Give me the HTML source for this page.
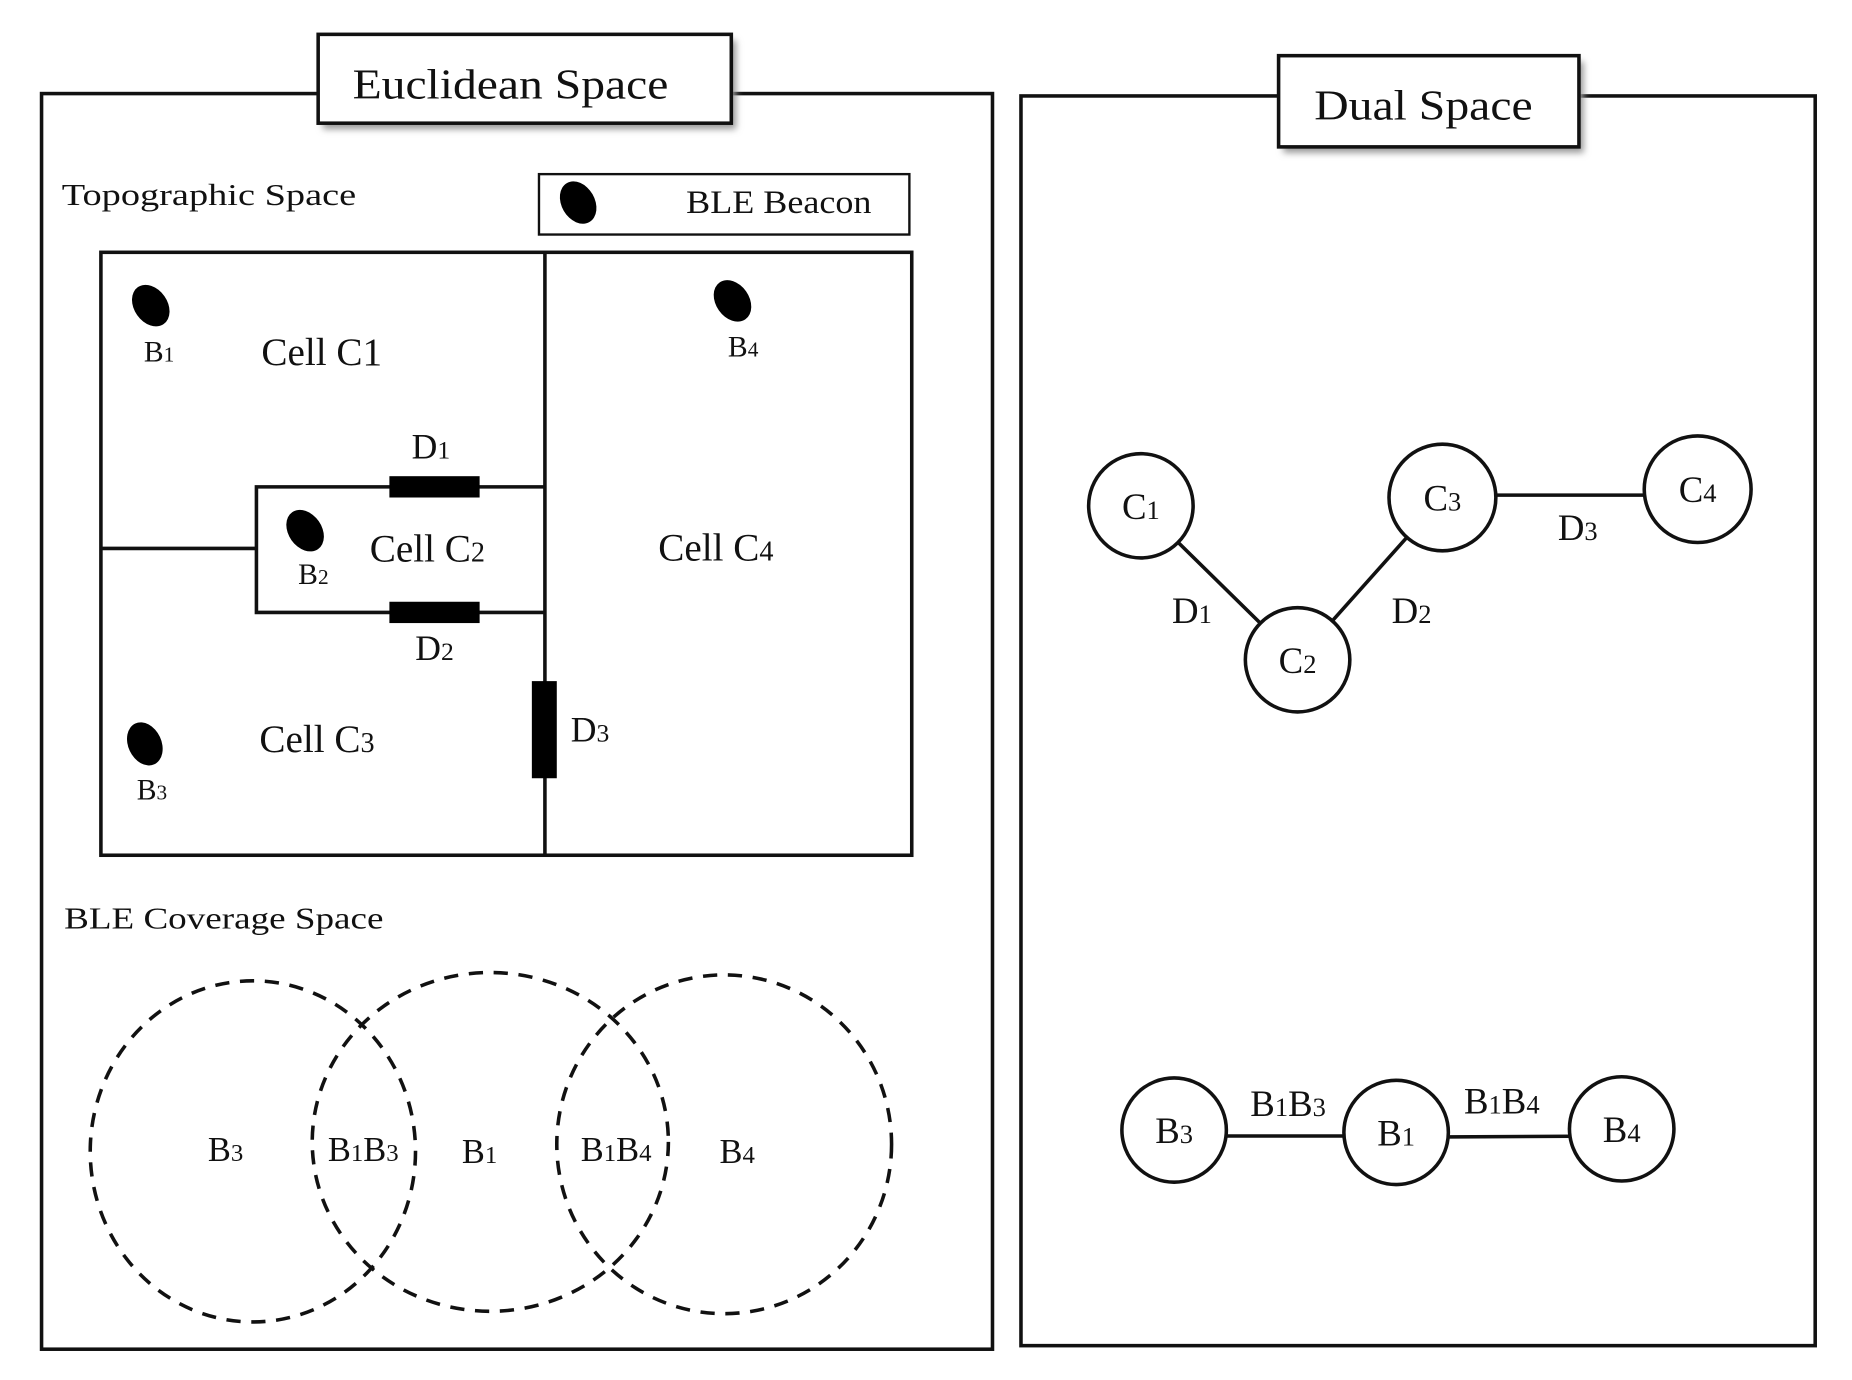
<!DOCTYPE html>
<html><head><meta charset="utf-8"><style>
html,body{margin:0;padding:0;background:#fff;}
svg{display:block;}
text{font-family:"Liberation Serif",serif;fill:#111;}
.s{font-size:0.72em;}
</style></head><body>
<svg width="1852" height="1380" viewBox="0 0 1560 1165" preserveAspectRatio="none" xmlns="http://www.w3.org/2000/svg">
<defs><filter id="sh" x="-10%" y="-10%" width="130%" height="140%"><feGaussianBlur stdDeviation="3"/></filter></defs>
<rect x="35" y="79" width="801" height="1060" fill="none" stroke="#111" stroke-width="3"/>
<rect x="860" y="81" width="669" height="1055" fill="none" stroke="#111" stroke-width="3"/>
<rect x="272" y="34" width="348" height="75" fill="#999" filter="url(#sh)"/>
<rect x="268" y="29" width="348" height="75" fill="#fff" stroke="#111" stroke-width="3"/>
<text x="297" y="83" font-size="36" textLength="266" lengthAdjust="spacingAndGlyphs">Euclidean Space</text>
<rect x="1081" y="52" width="253" height="77" fill="#999" filter="url(#sh)"/>
<rect x="1077" y="47" width="253" height="77" fill="#fff" stroke="#111" stroke-width="3"/>
<text x="1107" y="101" font-size="36" textLength="184" lengthAdjust="spacingAndGlyphs">Dual Space</text>
<text x="52" y="173" font-size="26" textLength="248" lengthAdjust="spacingAndGlyphs">Topographic Space</text>
<rect x="454" y="147" width="312" height="51" fill="none" stroke="#111" stroke-width="2"/>
<g fill="#000">
<ellipse cx="487" cy="171" rx="14" ry="19" transform="rotate(-30 487 171)"/>
<ellipse cx="127" cy="258" rx="14" ry="19" transform="rotate(-35 127 258)"/>
<ellipse cx="617" cy="254" rx="14" ry="19" transform="rotate(-35 617 254)"/>
<ellipse cx="257" cy="448" rx="14" ry="19" transform="rotate(-35 257 448)"/>
<ellipse cx="122" cy="628" rx="14" ry="19" transform="rotate(-25 122 628)"/>
</g>
<text x="578" y="180" font-size="28" textLength="156" lengthAdjust="spacingAndGlyphs">BLE Beacon</text>
<g fill="none" stroke="#111" stroke-width="3">
<rect x="85" y="213" width="683" height="509"/>
<line x1="459" y1="213" x2="459" y2="722"/>
<polyline points="459,411 216,411 216,517 459,517"/>
<line x1="85" y1="463" x2="216" y2="463"/>
</g>
<rect x="328" y="402" width="76" height="18" fill="#000"/>
<rect x="328" y="508" width="76" height="18" fill="#000"/>
<rect x="448" y="575" width="21" height="82" fill="#000"/>
<g font-size="25" text-anchor="middle">
<text x="134" y="305">B<tspan class="s">1</tspan></text>
<text x="626" y="301">B<tspan class="s">4</tspan></text>
<text x="264" y="493">B<tspan class="s">2</tspan></text>
<text x="128" y="675">B<tspan class="s">3</tspan></text>
</g>
<g font-size="33" text-anchor="middle">
<text x="271" y="308">Cell C1</text>
<text x="360" y="474">Cell C<tspan class="s">2</tspan></text>
<text x="603" y="473">Cell C<tspan class="s">4</tspan></text>
<text x="267" y="635">Cell C<tspan class="s">3</tspan></text>
<text x="363" y="387" font-size="30">D<tspan class="s">1</tspan></text>
<text x="366" y="557" font-size="30">D<tspan class="s">2</tspan></text>
<text x="497" y="626" font-size="30">D<tspan class="s">3</tspan></text>
</g>
<text x="54" y="784" font-size="26" textLength="269" lengthAdjust="spacingAndGlyphs">BLE Coverage Space</text>
<g fill="none" stroke="#111" stroke-width="3" stroke-dasharray="12,9">
<ellipse cx="213" cy="972" rx="137" ry="144"/>
<ellipse cx="413" cy="964" rx="150" ry="143"/>
<ellipse cx="610" cy="966" rx="141" ry="143"/>
</g>
<g font-size="29" text-anchor="middle">
<text x="190" y="980">B<tspan class="s">3</tspan></text>
<text x="306" y="980">B<tspan class="s">1</tspan>B<tspan class="s">3</tspan></text>
<text x="404" y="982">B<tspan class="s">1</tspan></text>
<text x="519" y="980">B<tspan class="s">1</tspan>B<tspan class="s">4</tspan></text>
<text x="621" y="982">B<tspan class="s">4</tspan></text>
</g>
<g stroke="#111" stroke-width="3" fill="none">
<line x1="961" y1="427" x2="1093" y2="557"/>
<line x1="1093" y1="557" x2="1215" y2="420"/>
<line x1="1215" y1="418" x2="1430" y2="418"/>
<line x1="989" y1="959" x2="1176" y2="959"/>
<line x1="1176" y1="960" x2="1366" y2="959"/>
</g>
<g stroke="#111" stroke-width="3" fill="#fff">
<circle cx="961" cy="427" r="44"/>
<circle cx="1215" cy="420" r="45"/>
<circle cx="1430" cy="413" r="45"/>
<circle cx="1093" cy="557" r="44"/>
<circle cx="989" cy="954" r="44"/>
<circle cx="1176" cy="956" r="44"/>
<circle cx="1366" cy="953" r="44"/>
</g>
<g font-size="31" text-anchor="middle">
<text x="961" y="438">C<tspan class="s">1</tspan></text>
<text x="1215" y="431">C<tspan class="s">3</tspan></text>
<text x="1430" y="424">C<tspan class="s">4</tspan></text>
<text x="1093" y="568">C<tspan class="s">2</tspan></text>
<text x="1004" y="526">D<tspan class="s">1</tspan></text>
<text x="1189" y="526">D<tspan class="s">2</tspan></text>
<text x="1329" y="456">D<tspan class="s">3</tspan></text>
<text x="989" y="965">B<tspan class="s">3</tspan></text>
<text x="1176" y="967">B<tspan class="s">1</tspan></text>
<text x="1366" y="964">B<tspan class="s">4</tspan></text>
<text x="1085" y="942">B<tspan class="s">1</tspan>B<tspan class="s">3</tspan></text>
<text x="1265" y="940">B<tspan class="s">1</tspan>B<tspan class="s">4</tspan></text>
</g>
</svg>
</body></html>
